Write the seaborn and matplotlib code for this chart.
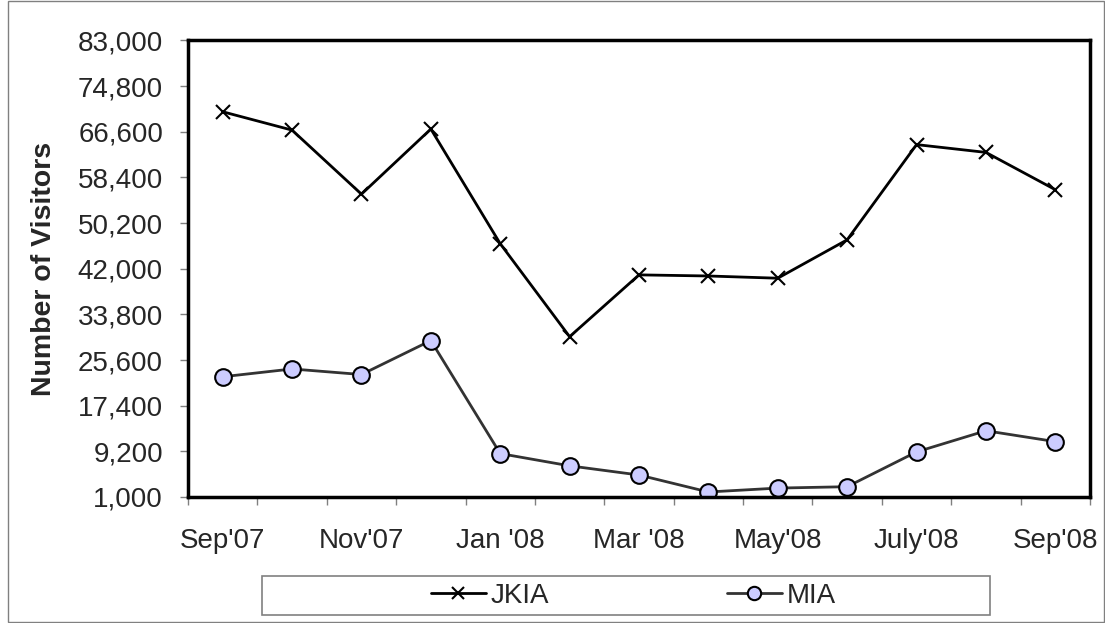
import numpy as np
import pandas as pd
import matplotlib
matplotlib.use('Agg')
import matplotlib.pyplot as plt
from matplotlib.patches import Rectangle
from matplotlib.ticker import FuncFormatter
import seaborn as sns

# data
months = ["Sep'07", "Oct'07", "Nov'07", "Dec'07", "Jan '08", "Feb'08", "Mar '08",
          "Apr'08", "May'08", "Jun'08", "July'08", "Aug'08", "Sep'08"]
jkia = [70200, 66900, 55400, 67100, 46500, 29800, 40900, 40700, 40300, 47200, 64300, 62900, 56200]
mia = [22600, 24000, 23000, 29100, 8800, 6600, 4950, 1900, 2600, 2850, 9100, 12900, 10950]
y_ticks = list(range(1000, 83001, 8200))

df = pd.DataFrame({'pos': range(len(months)), 'Month': months, 'JKIA': jkia, 'MIA': mia})

sns.set_style('white')
plt.rcParams['font.family'] = ['Liberation Sans', 'DejaVu Sans']

W, H = 1105, 623
fig = plt.figure(figsize=(W / 100, H / 100), dpi=100)
ax = fig.add_axes([188 / W, 1 - 497 / H, (1090 - 188) / W, (497 - 40.5) / H])

sns.lineplot(data=df, x='pos', y='JKIA', ax=ax, color='black', linewidth=2,
             marker='x', markersize=10, markeredgewidth=1.5, markeredgecolor='black',
             label='JKIA', legend=False)
sns.lineplot(data=df, x='pos', y='MIA', ax=ax, color='#333333', linewidth=2,
             marker='o', markersize=12, markerfacecolor='#CCCCFF', markeredgecolor='black',
             markeredgewidth=1.5, label='MIA', legend=False)

# category axis: ticks on boundaries, labels at centers of every other month
ax.set_xlim(-0.5, len(months) - 0.5)
ax.set_xticks(np.arange(-0.5, len(months), 1.0))
ax.set_xticklabels([])
ax.set_xticks(np.arange(0, len(months), 2), minor=True)
ax.set_xticklabels(months[::2], minor=True)
ax.tick_params(axis='x', which='major', direction='out', length=6, width=1, color='#808080', bottom=True)
ax.tick_params(axis='x', which='minor', length=0, labelsize=20, pad=22, bottom=True)

ax.set_ylim(1000, 83000)
ax.set_yticks(y_ticks)
ax.yaxis.set_major_formatter(FuncFormatter(lambda v, p: f'{int(v):,}'))
ax.tick_params(axis='y', direction='out', length=6, width=1, color='#808080', left=True, labelsize=20, pad=12)

ax.set_xlabel('')
ax.set_ylabel('Number of Visitors', fontsize=20.5, fontweight='bold', labelpad=15)

for s in ax.spines.values():
    s.set_visible(True)
    s.set_color('black')
    s.set_linewidth(2.5)

# legend in a box below the plot
fig.patches.append(Rectangle((262 / W, 1 - 615 / H), 728 / W, 39 / H, transform=fig.transFigure,
                             fill=False, edgecolor='#808080', linewidth=1.2))
handles, labels = ax.get_legend_handles_labels()
fig.legend(handles, labels, loc='center', bbox_to_anchor=(633 / W, 1 - 596 / H), ncol=2,
           frameon=False, fontsize=20, handlelength=2.0, handletextpad=0.15, columnspacing=6.4,
           markerscale=0.8)

# outer chart border
fig.patches.append(Rectangle((8 / W, 0.002), 1 - 9.5 / W, 0.996, transform=fig.transFigure,
                             fill=False, edgecolor='#808080', linewidth=1))

fig.savefig('out.png', dpi=100)
